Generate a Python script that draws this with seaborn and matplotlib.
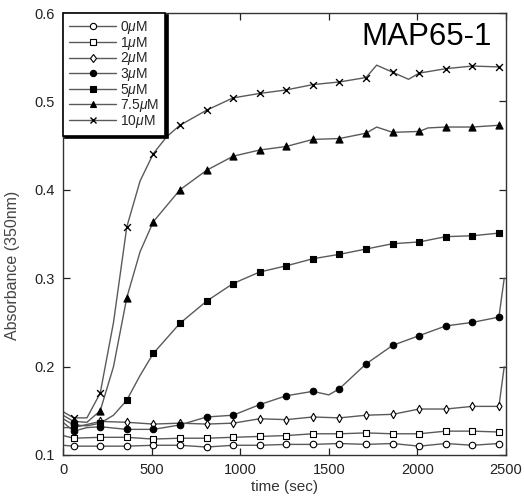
import numpy as np
import pandas as pd
import seaborn as sns
import matplotlib.pyplot as plt
from matplotlib.lines import Line2D

sns.set_theme(style="ticks")
plt.rcParams['font.family'] = ['Liberation Sans', 'DejaVu Sans']
plt.rcParams['mathtext.fontset'] = 'custom'
plt.rcParams['mathtext.rm'] = 'Liberation Sans'
plt.rcParams['mathtext.it'] = 'Liberation Sans:italic'

# ---- data ----
concentrations = ["0", "1", "2", "3", "5", "7.5", "10"]
t_mark = [60, 210, 360, 510, 660, 810, 960, 1110, 1260, 1410, 1560, 1710, 1860, 2010, 2160, 2310, 2460]

v_0 = [0.110, 0.110, 0.110, 0.111, 0.111, 0.109, 0.111, 0.111, 0.112, 0.112, 0.113, 0.112, 0.113, 0.110, 0.113, 0.111, 0.113]
v_1 = [0.119, 0.120, 0.120, 0.118, 0.119, 0.119, 0.120, 0.121, 0.122, 0.124, 0.124, 0.125, 0.124, 0.124, 0.127, 0.127, 0.126]
v_2 = [0.131, 0.138, 0.137, 0.135, 0.136, 0.135, 0.136, 0.141, 0.140, 0.143, 0.142, 0.145, 0.146, 0.152, 0.152, 0.155, 0.155]
v_3 = [0.127, 0.132, 0.129, 0.129, 0.134, 0.143, 0.145, 0.157, 0.167, 0.172, 0.175, 0.203, 0.224, 0.235, 0.246, 0.250, 0.256]
v_5 = [0.134, 0.136, 0.162, 0.215, 0.249, 0.274, 0.294, 0.307, 0.314, 0.322, 0.327, 0.333, 0.339, 0.341, 0.347, 0.348, 0.351]
v_75 = [0.138, 0.150, 0.278, 0.364, 0.400, 0.422, 0.438, 0.445, 0.449, 0.457, 0.458, 0.464, 0.465, 0.466, 0.471, 0.471, 0.473]
v_10 = [0.142, 0.170, 0.358, 0.441, 0.473, 0.490, 0.504, 0.509, 0.513, 0.519, 0.522, 0.527, 0.533, 0.532, 0.537, 0.540, 0.539]

# additional readings between the markers (start of trace, steep parts, spikes, end)
x_0_t = [0];                        x_0_v = [0.111]
x_1_t = [0];                        x_1_v = [0.122]
x_2_t = [0, 2490];                  x_2_v = [0.131, 0.200]
x_3_t = [0, 135, 1500, 2490];       x_3_v = [0.137, 0.131, 0.168, 0.300]
x_5_t = [0, 135, 285, 435];         x_5_v = [0.141, 0.133, 0.145, 0.190]
x_75_t = [0, 135, 285, 435, 1770, 2060]
x_75_v = [0.145, 0.137, 0.200, 0.330, 0.471, 0.470]
x_10_t = [0, 135, 285, 435, 585, 1770, 1950]
x_10_v = [0.149, 0.142, 0.250, 0.410, 0.460, 0.541, 0.525]

marker_vals = [v_0, v_1, v_2, v_3, v_5, v_75, v_10]
extra_t = [x_0_t, x_1_t, x_2_t, x_3_t, x_5_t, x_75_t, x_10_t]
extra_v = [x_0_v, x_1_v, x_2_v, x_3_v, x_5_v, x_75_v, x_10_v]

x_ticks = [0, 500, 1000, 1500, 2000, 2500]
y_ticks = [0.1, 0.2, 0.3, 0.4, 0.5, 0.6]

# ---- styles ----
styles = [
    dict(marker='o', facecolor='white', s=22),
    dict(marker='s', facecolor='white', s=22),
    dict(marker='d', facecolor='white', s=18),
    dict(marker='o', facecolor='black', s=22),
    dict(marker='s', facecolor='black', s=24),
    dict(marker='^', facecolor='black', s=26),
    dict(marker='x', facecolor='black', s=24),
]
line_color = '#5a5a5a'

rows = []
for c, mv, et, ev in zip(concentrations, marker_vals, extra_t, extra_v):
    for t, v in zip(t_mark + et, mv + ev):
        rows.append((c, t, v))
df = pd.DataFrame(rows, columns=['conc', 't', 'v']).sort_values(['conc', 't'])
dm = pd.DataFrame([(c, t, v) for c, mv in zip(concentrations, marker_vals) for t, v in zip(t_mark, mv)],
                  columns=['conc', 't', 'v'])

fig = plt.figure(figsize=(5.24, 5.01), dpi=100)
ax = fig.add_axes([63/524, 1-455/501, (506-63)/524, (455-13)/501])

for c in concentrations:
    sns.lineplot(data=df[df.conc == c], x='t', y='v', ax=ax, color=line_color, lw=1.0,
                 estimator=None, sort=True, legend=False)

for c, st in zip(concentrations, styles):
    sub = dm[dm.conc == c]
    if st['marker'] == 'x':
        sns.scatterplot(data=sub, x='t', y='v', ax=ax, marker='x', color='black', s=st['s'],
                        linewidth=1.0, legend=False, zorder=3)
    else:
        sns.scatterplot(data=sub, x='t', y='v', ax=ax, marker=st['marker'], facecolor=st['facecolor'],
                        edgecolor='black', s=st['s'], linewidth=0.8, legend=False, zorder=3)

ax.set_xlim(0, 2500)
ax.set_ylim(0.1, 0.6)
ax.set_xticks(x_ticks)
ax.set_yticks(y_ticks)
ax.set_xticklabels([str(v) for v in x_ticks])
ax.set_yticklabels([f"{v:.1f}" for v in y_ticks])
ax.tick_params(direction='in', top=True, right=True, length=5, width=0.9, labelsize=10.5,
               colors='#222222', pad=6)
for sp in ax.spines.values():
    sp.set_color('#333333')
    sp.set_linewidth(1.0)

ax.set_xlabel('time (sec)', fontsize=11, color='#333333', labelpad=2)
ax.set_ylabel('Absorbance (350nm)', fontsize=11.5, color='#444444')
ax.yaxis.set_label_coords(-0.097, 0.43)

ax.text(0.968, 0.928, 'MAP65-1', transform=ax.transAxes, ha='right', va='baseline',
        fontsize=22.5, color='black')

handles = []
for c, st in zip(concentrations, styles):
    if st['marker'] == 'x':
        h = Line2D([], [], color=line_color, lw=1.0, marker='x', mec='black', ms=4.5)
    else:
        h = Line2D([], [], color=line_color, lw=1.0, marker=st['marker'], mfc=st['facecolor'],
                   mec='black', ms=4.5, mew=0.8)
    handles.append(h)
labels = [rf"{c}$\mathit{{\mu}}$M" for c in concentrations]
leg = ax.legend(handles, labels, loc='upper left', borderaxespad=0.0, fontsize=10,
                frameon=True, fancybox=False,
                shadow={'color': 'black', 'alpha': 1.0, 'ox': 1.5, 'oy': -1.5},
                handlelength=3.4, handletextpad=0.25, labelspacing=-0.1, borderpad=0.45)
leg.get_frame().set_edgecolor('black')
leg.get_frame().set_linewidth(1.2)

fig.savefig('out.png', dpi=100)
